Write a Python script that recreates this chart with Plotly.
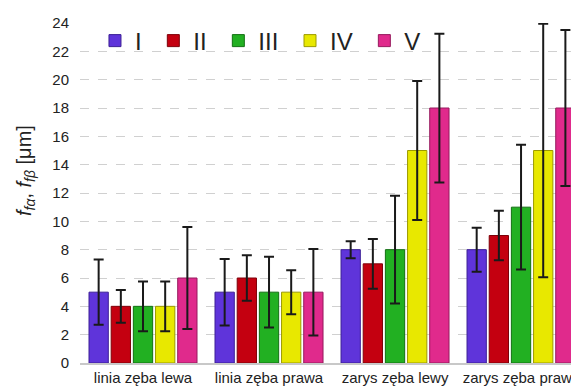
import plotly.graph_objects as go

categories = ["linia zęba lewa", "linia zęba prawa", "zarys zęba lewy", "zarys zęba prawy"]
series_names = ["I", "II", "III", "IV", "V"]

vals_I = [5, 5, 8, 8]
vals_II = [4, 6, 7, 9]
vals_III = [4, 5, 8, 11]
vals_IV = [4, 5, 15, 15]
vals_V = [6, 5, 18, 18]

err_I = [2.3, 2.35, 0.6, 1.55]
err_II = [1.15, 1.6, 1.75, 1.75]
err_III = [1.75, 2.5, 3.8, 4.4]
err_IV = [1.75, 1.55, 4.9, 8.95]
err_V = [3.6, 3.05, 5.25, 5.5]

y_ticks = [0, 2, 4, 6, 8, 10, 12, 14, 16, 18, 20, 22, 24]
y_title = "<i>f</i><sub><i>fα</i></sub>, <i>f</i><sub><i>fβ</i></sub> [μm]"

values = [vals_I, vals_II, vals_III, vals_IV, vals_V]
errors = [err_I, err_II, err_III, err_IV, err_V]
fill_colors = ["#5f34da", "#c40010", "#22b022", "#e8e800", "#e02a8c"]
line_colors = ["#3c1f96", "#7e0008", "#137013", "#9c9a00", "#961a5e"]

fig = go.Figure()
for name, v, e, fc, lc in zip(series_names, values, errors, fill_colors, line_colors):
    fig.add_trace(go.Bar(
        x=categories, y=v, name=name + "\u00a0",
        marker=dict(color=fc, line=dict(color=lc, width=1)),
        error_y=dict(type="data", array=e, visible=True, color="#1a1a1a", thickness=2, width=5),
        cliponaxis=False,
    ))

# page body has an 8px margin: figure is laid out in 571x381
fig.update_layout(
    width=571, height=381,
    margin=dict(l=72, r=0, t=15, b=26),
    paper_bgcolor="white", plot_bgcolor="white",
    barmode="group", bargap=0.12, bargroupgap=0.13,
    font=dict(family="Liberation Sans, Arial, sans-serif", color="#222222"),
    showlegend=True,
    legend=dict(orientation="h", x=0.03, y=0.947, xanchor="left", yanchor="middle",
                font=dict(size=24, color="#222222"), bgcolor="rgba(0,0,0,0)",
                itemwidth=30, tracegroupgap=0),
    xaxis=dict(type="category", range=[-0.5, 3.46], showgrid=False,
               showline=True, linecolor="#c8c8c8", linewidth=2,
               tickfont=dict(size=15, color="#222222"), ticks=""),
    yaxis=dict(range=[0, 24], tickvals=y_ticks, showgrid=True, gridcolor="#d0d0d0",
               griddash="dash", gridwidth=1, zeroline=False, showline=False,
               tickfont=dict(size=15, color="#222222"), ticklabelstandoff=10),
    annotations=[dict(text=y_title, xref="paper", yref="paper", x=-0.108, y=0.565,
                      xanchor="center", yanchor="middle", textangle=-90, showarrow=False,
                      font=dict(size=20, color="#222222"))],
)

fig.write_html("out.html")
